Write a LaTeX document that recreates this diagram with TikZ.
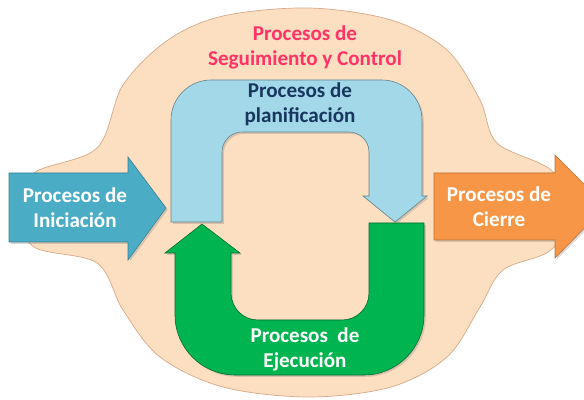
\documentclass[tikz,border=0pt]{standalone}
\usepackage{fontspec}
\setmainfont{Carlito}
\usepackage{tikz}
\usetikzlibrary{shadows}
\usepackage{xcolor}

\definecolor{blobfill}{RGB}{252,222,192}
\definecolor{blobline}{RGB}{214,170,138}
\definecolor{iniblue}{RGB}{75,172,198}
\definecolor{planblue}{RGB}{163,216,233}
\definecolor{ejegreen}{RGB}{0,180,80}
\definecolor{cierreorange}{RGB}{247,150,70}
\definecolor{segred}{RGB}{255,51,102}
\definecolor{plannavy}{RGB}{23,55,94}

\tikzset{
	arrowshape/.style={line width=0.5pt, drop shadow={shadow xshift=1.5pt, shadow yshift=-1.5pt, opacity=0.3}},
	proclabel/.style={align=center, font=\fontsize{18}{21.5}\selectfont\bfseries, inner sep=0pt}
}

\begin{document}
\begin{tikzpicture}[x=0.03cm, y=-0.03cm]
				\useasboundingbox (0,0) rectangle (584,400);
				\clip (0,0) rectangle (584,400);
				% fondo
				\filldraw[fill=blobfill, draw=blobline, line width=0.6pt] plot[smooth cycle, tension=0.55] coordinates {(18,210) (34,173) (97,148) (123,85) (168,40) (223,16) (309,8) (391,20) (447,50) (480,100) (497,143) (551,170) (572,210) (551,250) (503,270) (480,307) (447,357) (391,387) (309,397) (223,387) (160,357) (123,310) (97,263) (34,247)};
				% flechas de entrada y salida
				\filldraw[arrowshape, fill=iniblue, draw=iniblue!75!black] (9,173) -- (128,173) -- (128,157) -- (166,208) -- (128,260) -- (128,242) -- (9,242) -- cycle;
				\filldraw[arrowshape, fill=cierreorange, draw=cierreorange!75!black] (434,173) -- (555,173) -- (555,155) -- (606,206) -- (555,258) -- (555,240) -- (434,240) -- cycle;
				% planificacion
				\filldraw[arrowshape, fill=planblue, draw=planblue!60!black] (171,222) -- (171,120) .. controls (171,98) and (189,80) .. (211,80) -- (382,80) .. controls (404,80) and (422,98) .. (422,120) -- (422,196) -- (427,196) -- (395,222) -- (363,196) -- (369,196) -- (369,152) .. controls (369,141) and (360,132) .. (349,132) -- (242,132) .. controls (231,132) and (222,141) .. (222,152) -- (222,222) -- cycle;
				% ejecucion
				\filldraw[arrowshape, fill=ejegreen, draw=ejegreen!60!black] (369,223) -- (424,223) -- (424,315) .. controls (424,348) and (397,375) .. (364,375) -- (235,375) .. controls (202,375) and (175,348) .. (175,315) -- (175,253) -- (165,253) -- (202,224) -- (240,253) -- (231,253) -- (231,293) .. controls (231,308) and (243,320) .. (258,320) -- (342,320) .. controls (357,320) and (369,308) .. (369,293) -- cycle;
				% textos
				\node[proclabel, text=segred] (seguimiento) at (305,47) {Procesos de\\Seguimiento y Control};
				\node[proclabel, text=plannavy] (planificacion) at (300,104) {Procesos de\\planificación};
				\node[proclabel, text=white] (iniciacion) at (75,208) {Procesos de\\Iniciación};
				\node[proclabel, text=white] (cierre) at (499,207) {Procesos de\\Cierre};
				\node[proclabel, text=white] (ejecucion) at (305,349) {Procesos~~de\\Ejecución};
			\end{tikzpicture}
\end{document}
